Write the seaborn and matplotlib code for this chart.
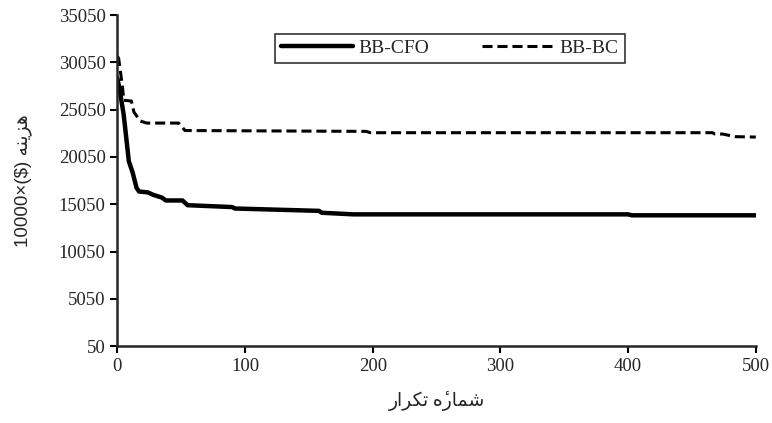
import numpy as np
import pandas as pd
import matplotlib
matplotlib.use("Agg")
import matplotlib.pyplot as plt
import seaborn as sns

# convergence curves (iteration, cost x10000 $)
cfo_iter = [0, 2, 5, 9, 12, 15, 17, 24, 28, 35, 38, 51, 55, 90, 92, 158, 160, 185, 400, 403, 500]
cfo_cost = [28400, 27000, 24500, 19600, 18400, 16800, 16400, 16300, 16050, 15750, 15450, 15450,
            14950, 14750, 14600, 14350, 14150, 13980, 13980, 13880, 13880]

bc_iter = [0, 1, 4, 5, 11, 13, 18, 23, 48, 53, 195, 198, 466, 468, 474, 484, 500]
bc_cost = [30700, 30500, 27500, 26050, 25970, 24800, 23850, 23640, 23640, 22850, 22760,
           22620, 22620, 22480, 22480, 22200, 22160]

y_ticks = [50, 5050, 10050, 15050, 20050, 25050, 30050, 35050]
x_ticks = [0, 100, 200, 300, 400, 500]

# Persian labels, pre-shaped (presentation forms, visual order)
x_label = "\ufead\ufe8d\ufeae\ufb91\ufe97 \ufee9\u0654\ufead\ufe8e\ufee4\ufeb7"   # شمارۀ تکرار
y_label = "10000\u00d7($) \ufeea\ufee8\ufbfe\ufeb0\ufeeb"                          # هزینه ($)×10000

sns.set_style("ticks")
plt.rcParams["font.family"] = ["Liberation Serif", "DejaVu Sans"]
plt.rcParams["axes.linewidth"] = 1.8

fig, ax = plt.subplots(figsize=(7.72, 4.23), dpi=100)
fig.subplots_adjust(left=0.152, right=0.979, top=0.964, bottom=0.182)

sns.lineplot(x=cfo_iter, y=cfo_cost, ax=ax, color="black", linewidth=3.2,
             estimator=None, label="BB-CFO")
sns.lineplot(x=bc_iter, y=bc_cost, ax=ax, color="black", linewidth=2.2,
             linestyle=(0, (3.3, 1.6)), estimator=None, label="BB-BC")

ax.set_xlim(0, 500)
ax.set_ylim(50, 35050)
ax.set_xticks(x_ticks)
ax.set_yticks(y_ticks)
ax.tick_params(axis="both", labelsize=13.5, length=5, width=1.5, color="black")
sns.despine(ax=ax)

ax.set_xlabel(x_label, fontsize=13.5, family=["Liberation Serif", "DejaVu Sans"], labelpad=12)
ax.set_ylabel(y_label, fontsize=13.5, family=["Liberation Sans", "DejaVu Sans"], labelpad=19)

leg = ax.legend(loc="center", bbox_to_anchor=(0.521, 0.90), ncol=2, fontsize=14,
                frameon=True, fancybox=False, handlelength=3.7, columnspacing=2.7,
                borderpad=0.3, handletextpad=0.3, borderaxespad=0)
leg.get_frame().set_edgecolor("black")
leg.get_frame().set_linewidth(1.2)

fig.savefig("out.png", dpi=100)
